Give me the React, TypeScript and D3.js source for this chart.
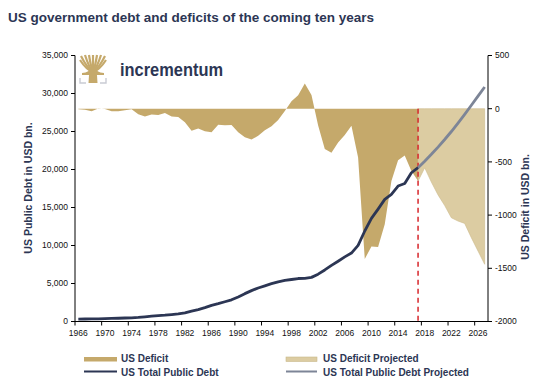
import React from 'react';
import * as d3 from 'd3';

// fiscal years, actual
const histYears = [
  1966, 1967, 1968, 1969, 1970, 1971, 1972, 1973, 1974, 1975, 1976, 1977, 1978,
  1979, 1980, 1981, 1982, 1983, 1984, 1985, 1986, 1987, 1988, 1989, 1990, 1991,
  1992, 1993, 1994, 1995, 1996, 1997, 1998, 1999, 2000, 2001, 2002, 2003, 2004,
  2005, 2006, 2007, 2008, 2009, 2010, 2011, 2012, 2013, 2014, 2015, 2016, 2017,
];
const histDeficit = [
  -4, -9, -25, 3, -3, -23, -23, -15, -6, -53, -74, -54, -59, -41, -74, -79, -128,
  -208, -185, -212, -221, -150, -155, -153, -221, -269, -290, -255, -203, -164,
  -107, -22, 69, 126, 236, 128, -158, -378, -413, -318, -248, -161, -459, -1413,
  -1294, -1300, -1087, -680, -485, -439, -585, -680,
];
const histDebt = [
  320, 326, 348, 354, 371, 398, 427, 458, 475, 533, 620, 699, 772, 827, 908, 998,
  1142, 1377, 1572, 1823, 2125, 2340, 2602, 2857, 3233, 3665, 4065, 4411, 4693,
  4974, 5225, 5413, 5526, 5656, 5674, 5807, 6228, 6783, 7379, 7933, 8507, 9008,
  10025, 11910, 13562, 14790, 16066, 16738, 17824, 18151, 19573, 20245,
];

// projection
const projYears = [2017, 2018, 2019, 2020, 2021, 2022, 2023, 2024, 2025, 2026, 2027];
const projDeficit = [-680, -556, -690, -810, -910, -1025, -1056, -1078, -1212, -1337, -1462];
const projDebt = [20245, 21100, 22000, 22950, 23950, 25000, 26100, 27250, 28450, 29650, 30850];

const axisYears = [1966, 1970, 1974, 1978, 1982, 1986, 1990, 1994, 1998, 2002, 2006, 2010, 2014, 2018, 2022, 2026];
const debtTicks = [0, 5000, 10000, 15000, 20000, 25000, 30000, 35000];
const deficitTicks = [-2000, -1500, -1000, -500, 0, 500];

const NAVY = '#2c3654';
const GOLD = '#c5a96b';
const GOLD_LIGHT = '#dccca2';
const GREY_LINE = '#7d8597';
const FONT = 'Arial, "Liberation Sans", Helvetica, sans-serif';

const left = 75;
const right = 488;
const top = 55.5;
const bottom = 321.5;

// branch tips of the logo tree
const branchTips = [
  [80, 60], [81, 56], [85, 55], [89, 55], [93, 55], [97, 55], [101, 55], [105, 56], [106, 60],
];

const App = () => {
  const allYears = histYears.concat(projYears.slice(1));
  const x = d3.scaleBand<number>().domain(allYears).range([left, right]);
  const cx = (yr: number) => (x(yr) as number) + x.bandwidth() / 2;
  const yDebt = d3.scaleLinear().domain([0, 35000]).range([bottom, top]);
  const yDef = d3.scaleLinear().domain([-2000, 500]).range([bottom, top]);

  const hist = histYears.map((yr, i) => ({ yr, def: histDeficit[i], debt: histDebt[i] }));
  const proj = projYears.map((yr, i) => ({ yr, def: projDeficit[i], debt: projDebt[i] }));

  const area = d3
    .area<{ yr: number; def: number }>()
    .x((d) => cx(d.yr))
    .y0(yDef(0))
    .y1((d) => yDef(d.def));
  const line = d3
    .line<{ yr: number; debt: number }>()
    .x((d) => cx(d.yr))
    .y((d) => yDebt(d.debt));

  const cut = cx(2017);

  return (
    <svg
      width={547}
      height={389}
      style={{ position: 'absolute', left: 0, top: 0, background: '#fff' }}
      fontFamily={FONT}
    >
      <text x={8} y={22} fontSize={13.5} fontWeight="bold" fill={NAVY}>
        US government debt and deficits of the coming ten years
      </text>

      {/* logo */}
      <g>
        <g stroke={GOLD} strokeWidth={2.2} fill="none" strokeLinecap="butt">
          {branchTips.map(([bx, by], i) => (
            <path key={i} d={`M93,72 Q${(93 + bx) / 2},${(72 + by) / 2 + 4} ${bx},${by}`} />
          ))}
        </g>
        <path d="M89.5,68 L96.5,68 L97.5,83 L88.5,83 Z" fill={GOLD} />
        <path d="M82,73 C87,73 91,70 93,66 C95,70 99,73 104,73 L104,75 L82,75 Z" fill={GOLD} />
        <path d="M80,78 L80,83 L86,83 M106,78 L106,83 L100,83" stroke="#c9cbd3" strokeWidth={1.4} fill="none" />
        <text x={120} y={76} fontSize={18.5} fill={NAVY} fontWeight="bold" textLength={103} lengthAdjust="spacingAndGlyphs">
          incrementum
        </text>
      </g>

      {/* deficit areas */}
      <path d={area(hist) ?? ''} fill={GOLD} />
      <path d={area(proj) ?? ''} fill={GOLD_LIGHT} stroke="#cdbb8c" strokeWidth={0.6} />

      {/* projection marker */}
      <line x1={cut} x2={cut} y1={yDef(0)} y2={bottom} stroke="#d7262b" strokeWidth={1.5} strokeDasharray="5,4" />

      {/* debt lines */}
      <path d={line(proj) ?? ''} fill="none" stroke={GREY_LINE} strokeWidth={2.8} />
      <path d={line(hist) ?? ''} fill="none" stroke={NAVY} strokeWidth={2.8} strokeLinejoin="round" />

      {/* axes */}
      <g stroke="#000" strokeWidth={1}>
        <line x1={left} x2={left} y1={top} y2={bottom} />
        <line x1={right} x2={right} y1={top} y2={bottom} />
        <line x1={left} x2={right} y1={bottom} y2={bottom} />
        {debtTicks.map((t) => (
          <line key={'l' + t} x1={left - 4} x2={left} y1={yDebt(t)} y2={yDebt(t)} />
        ))}
        {deficitTicks.map((t) => (
          <line key={'r' + t} x1={right} x2={right + 4} y1={yDef(t)} y2={yDef(t)} />
        ))}
        {axisYears.map((yr) => (
          <line key={'b' + yr} x1={x(yr)} x2={x(yr)} y1={bottom} y2={bottom + 4} />
        ))}
      </g>
      <g fontSize={8.5} fill="#111">
        {debtTicks.map((t) => (
          <text key={t} x={left - 7} y={yDebt(t)} dy="0.35em" textAnchor="end">
            {d3.format(',')(t)}
          </text>
        ))}
        {deficitTicks.map((t) => (
          <text key={t} x={right + 7} y={yDef(t)} dy="0.35em">
            {t}
          </text>
        ))}
        {axisYears.map((yr) => (
          <text key={yr} x={cx(yr)} y={336} textAnchor="middle">
            {yr}
          </text>
        ))}
      </g>

      <text
        transform="translate(32,188) rotate(-90)"
        textAnchor="middle"
        fontSize={10.5}
        fontWeight="bold"
        fill={NAVY}
      >
        US Public Debt in USD bn.
      </text>
      <text
        transform="translate(529,207) rotate(-90)"
        textAnchor="middle"
        fontSize={10.5}
        fontWeight="bold"
        fill={NAVY}
      >
        US Deficit in USD bn.
      </text>

      {/* legend */}
      <g fontSize={10} fontWeight="bold" fill={NAVY}>
        <rect x={84} y={357} width={33} height={4.5} fill={GOLD} />
        <text x={121} y={362}>US Deficit</text>
        <line x1={84} x2={117} y1={371.5} y2={371.5} stroke={NAVY} strokeWidth={2} />
        <text x={121} y={375.5}>US Total Public Debt</text>
        <rect x={286} y={357} width={31} height={4.5} fill={GOLD_LIGHT} stroke="#c8b88a" strokeWidth={0.6} />
        <text x={323} y={362}>US Deficit Projected</text>
        <line x1={286} x2={317} y1={371.5} y2={371.5} stroke={GREY_LINE} strokeWidth={2} />
        <text x={323} y={375.5}>US Total Public Debt Projected</text>
      </g>
    </svg>
  );
};

export default App;
